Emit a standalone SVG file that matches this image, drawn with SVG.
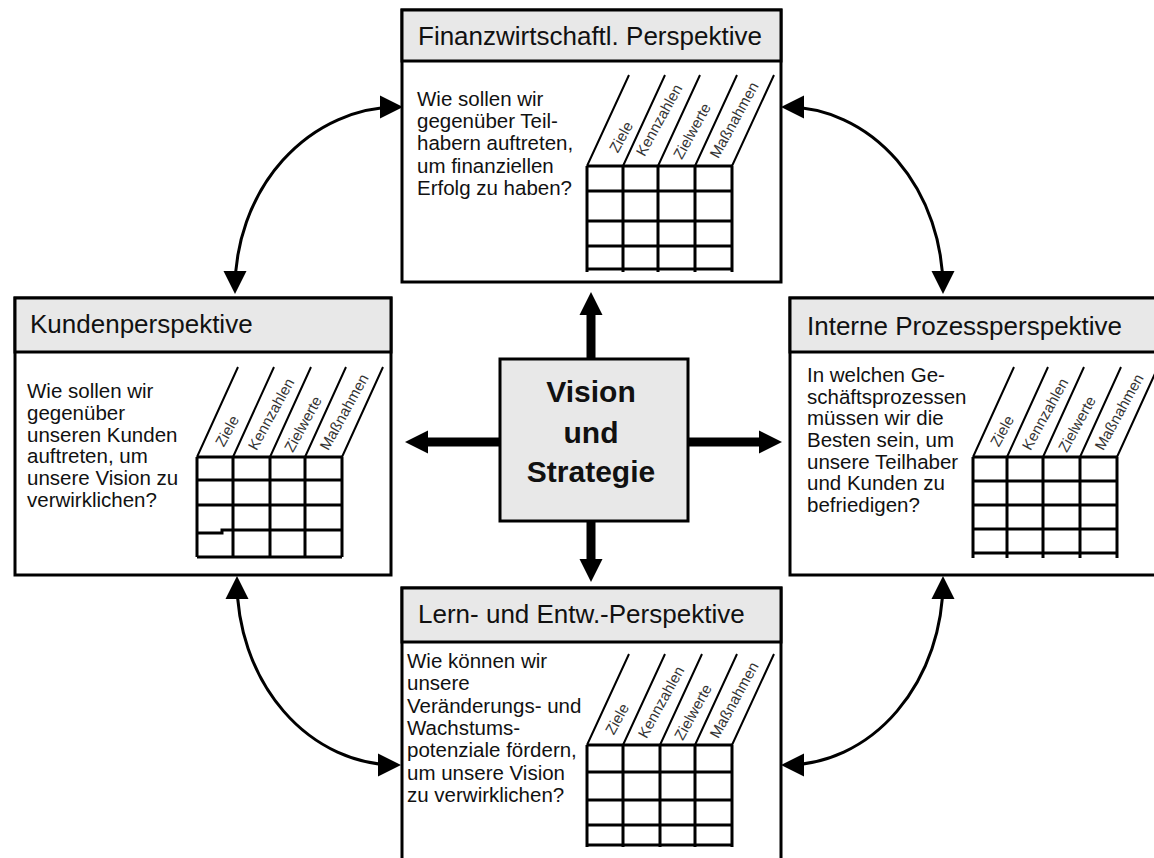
<svg xmlns="http://www.w3.org/2000/svg" width="1154" height="858" viewBox="0 0 1154 858">
<style>
.bg{fill:#fff}
.box{fill:#fff;stroke:#000;stroke-width:3}
.hdr{fill:#e8e8e8;stroke:#000;stroke-width:3}
text{font-family:"Liberation Sans",Arial,Helvetica,sans-serif;fill:#111}
.ht{font-size:26px}
.bt{font-size:20.5px}
.ct{font-size:30px;font-weight:bold;text-anchor:middle}
.lab{font-size:15px;fill:#333;text-anchor:middle}
.grid{stroke:#000;stroke-width:3;fill:none}
.sl{stroke:#000;stroke-width:2;fill:none}
.conn{stroke:#000;stroke-width:3;fill:none;marker-start:url(#ah);marker-end:url(#ah)}
.thick{stroke:#000;stroke-width:9;fill:none;marker-end:url(#bh)}
</style>
<defs>
<marker id="ah" markerUnits="userSpaceOnUse" markerWidth="24" markerHeight="24" refX="18" refY="11.5" orient="auto-start-reverse" overflow="visible"><path d="M0,0 L23,11.5 L0,23 z" fill="#000"/></marker>
<marker id="bh" markerUnits="userSpaceOnUse" markerWidth="24" markerHeight="24" refX="13" refY="11.5" orient="auto" overflow="visible"><path d="M0,0 L23,11.5 L0,23 z" fill="#000"/></marker>
</defs>
<rect class="bg" x="0" y="0" width="1154" height="858"/>

<g id="connectors">
<path class="conn" d="M235,289 A163,182 0 0 1 398,107"/>
<path class="conn" d="M786,107 A157,182 0 0 1 943,289"/>
<path class="conn" d="M237,581 A159,184 0 0 0 396,765"/>
<path class="conn" d="M943,581 A157,184 0 0 1 786,765"/>
<path class="thick" d="M591,359 V302"/>
<path class="thick" d="M591,521 V572"/>
<path class="thick" d="M500,442 H415"/>
<path class="thick" d="M688,442 H772"/>
</g>

<g id="finanz">
<rect class="box" x="402" y="10" width="379" height="272"/>
<rect class="hdr" x="402" y="10" width="379" height="51"/>
<text class="ht" x="418" y="45">Finanzwirtschaftl. Perspektive</text>
<text class="bt" x="417" y="106">Wie sollen wir</text>
<text class="bt" x="417" y="128">gegenüber Teil-</text>
<text class="bt" x="417" y="150">habern auftreten,</text>
<text class="bt" x="417" y="173">um finanziellen</text>
<text class="bt" x="417" y="195">Erfolg zu haben?</text>
<path class="grid" d="M587,166 V272 M623,166 V272 M658,166 V272 M695,166 V272 M732,166 V272 M587,166 H732 M587,191 H732 M587,221 H732 M587,246 H732 M587,269 H732"/>
<path class="sl" d="M587,166 L629,75 M623,166 L665,75 M658,166 L700,75 M695,166 L737,75 M732,166 L774,75"/>
<text class="lab" transform="translate(621,137) rotate(-61)" dy="0.35em">Ziele</text>
<text class="lab" transform="translate(659,120) rotate(-61)" dy="0.35em">Kennzahlen</text>
<text class="lab" transform="translate(692,131) rotate(-61)" dy="0.35em">Zielwerte</text>
<text class="lab" transform="translate(734,120) rotate(-61)" dy="0.35em">Maßnahmen</text>
</g>

<g id="kunden">
<rect class="box" x="15" y="298" width="376" height="277"/>
<rect class="hdr" x="15" y="298" width="376" height="54"/>
<text class="ht" x="30" y="333">Kundenperspektive</text>
<text class="bt" x="27" y="398">Wie sollen wir</text>
<text class="bt" x="27" y="420">gegenüber</text>
<text class="bt" x="27" y="442">unseren Kunden</text>
<text class="bt" x="27" y="463">auftreten, um</text>
<text class="bt" x="27" y="485">unsere Vision zu</text>
<text class="bt" x="27" y="507">verwirklichen?</text>
<path class="grid" d="M197,457 V557 M233,457 V557 M270,457 V557 M305,457 V557 M342,457 V557 M197,457 H342 M197,480 H342 M197,505 H342 M197,533 H222 V530 H342 M197,557 H342"/>
<path class="sl" d="M197,457 L238,367 M233,457 L274,367 M270,457 L311,367 M305,457 L346,367 M342,457 L383,367"/>
<text class="lab" transform="translate(227,431) rotate(-61)" dy="0.35em">Ziele</text>
<text class="lab" transform="translate(271,414) rotate(-61)" dy="0.35em">Kennzahlen</text>
<text class="lab" transform="translate(303,424) rotate(-61)" dy="0.35em">Zielwerte</text>
<text class="lab" transform="translate(344,412) rotate(-61)" dy="0.35em">Maßnahmen</text>
</g>

<g id="prozess">
<rect class="box" x="790" y="298" width="372" height="277"/>
<rect class="hdr" x="790" y="298" width="372" height="54"/>
<text class="ht" x="807" y="335">Interne Prozessperspektive</text>
<text class="bt" x="807" y="382">In welchen Ge-</text>
<text class="bt" x="807" y="404">schäftsprozessen</text>
<text class="bt" x="807" y="425">müssen wir die</text>
<text class="bt" x="807" y="447">Besten sein, um</text>
<text class="bt" x="807" y="469">unsere Teilhaber</text>
<text class="bt" x="807" y="490">und Kunden zu</text>
<text class="bt" x="807" y="512">befriedigen?</text>
<path class="grid" d="M973,457 V558 M1007,457 V558 M1043,457 V558 M1080,457 V558 M1117,457 V558 M973,457 H1117 M973,481 H1117 M973,505 H1117 M973,529 H1117 M973,553 H1117"/>
<path class="sl" d="M973,457 L1014,367 M1007,457 L1048,367 M1043,457 L1084,367 M1080,457 L1121,367 M1117,457 L1158,367"/>
<text class="lab" transform="translate(1002,431) rotate(-61)" dy="0.35em">Ziele</text>
<text class="lab" transform="translate(1045,414) rotate(-61)" dy="0.35em">Kennzahlen</text>
<text class="lab" transform="translate(1077,424) rotate(-61)" dy="0.35em">Zielwerte</text>
<text class="lab" transform="translate(1119,412) rotate(-61)" dy="0.35em">Maßnahmen</text>
</g>

<g id="lern">
<rect class="box" x="402" y="588" width="379" height="300"/>
<rect class="hdr" x="402" y="588" width="379" height="54"/>
<text class="ht" x="418" y="623">Lern- und Entw.-Perspektive</text>
<text class="bt" x="407" y="668">Wie können wir</text>
<text class="bt" x="407" y="690">unsere</text>
<text class="bt" x="407" y="713">Veränderungs- und</text>
<text class="bt" x="407" y="735">Wachstums-</text>
<text class="bt" x="407" y="757">potenziale fördern,</text>
<text class="bt" x="407" y="780">um unsere Vision</text>
<text class="bt" x="407" y="802">zu verwirklichen?</text>
<path class="grid" d="M587,745 V847 M623,745 V847 M660,745 V847 M695,745 V847 M732,745 V847 M587,745 H732 M587,772 H732 M587,800 H732 M587,825 H732 M587,845 H732"/>
<path class="sl" d="M587,745 L629,654 M623,745 L665,654 M660,745 L702,654 M695,745 L737,654 M732,745 L774,654"/>
<text class="lab" transform="translate(617,719) rotate(-61)" dy="0.35em">Ziele</text>
<text class="lab" transform="translate(661,702) rotate(-61)" dy="0.35em">Kennzahlen</text>
<text class="lab" transform="translate(693,712) rotate(-61)" dy="0.35em">Zielwerte</text>
<text class="lab" transform="translate(734,700) rotate(-61)" dy="0.35em">Maßnahmen</text>
</g>

<g id="vision">
<rect class="hdr" x="500" y="359" width="188" height="162"/>
<text class="ct" x="591" y="402">Vision</text>
<text class="ct" x="591" y="443">und</text>
<text class="ct" x="591" y="482">Strategie</text>
</g>
</svg>
